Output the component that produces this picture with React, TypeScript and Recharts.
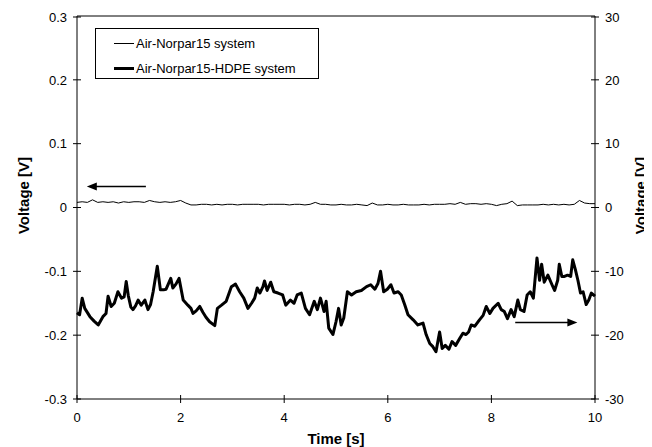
import { LineChart, Line, XAxis, YAxis, ReferenceLine } from 'recharts';

// Air-Norpar15 system, left axis [V], sampled every 0.1 s
const airStep = 0.1;
const airVoltage = [
  0.008, 0.009, 0.008, 0.012, 0.008, 0.009, 0.008, 0.009, 0.007, 0.009,
  0.008, 0.009, 0.009, 0.008, 0.011, 0.009, 0.008, 0.009, 0.008, 0.009,
  0.011, 0.007, 0.004, 0.004, 0.005, 0.005, 0.004, 0.005, 0.004, 0.005,
  0.005, 0.004, 0.005, 0.005, 0.005, 0.005, 0.004, 0.005, 0.005, 0.005,
  0.005, 0.004, 0.005, 0.005, 0.004, 0.005, 0.008, 0.005, 0.005, 0.004,
  0.004, 0.005, 0.004, 0.004, 0.005, 0.004, 0.003, 0.007, 0.004, 0.004,
  0.005, 0.004, 0.004, 0.005, 0.004, 0.004, 0.004, 0.005, 0.004, 0.005,
  0.005, 0.005, 0.006, 0.005, 0.008, 0.005, 0.006, 0.006, 0.005, 0.006,
  0.005, 0.003, 0.005, 0.006, 0.010, 0.003, 0.004, 0.004, 0.004, 0.004,
  0.005, 0.004, 0.005, 0.004, 0.005, 0.004, 0.005, 0.011, 0.007, 0.006,
  0.006,
];

// Air-Norpar15-HDPE system, right axis [V]
const hdpeTime = [
  0, 0.05, 0.1, 0.15, 0.25, 0.33, 0.41, 0.5, 0.56, 0.6, 0.66, 0.72, 0.79, 0.86, 0.91, 0.95, 0.99,
  1.04, 1.08, 1.13, 1.18, 1.24, 1.31, 1.37, 1.42, 1.47, 1.55, 1.61, 1.67, 1.72, 1.81, 1.85, 1.91, 1.97,
  2.05, 2.14, 2.2, 2.24, 2.3, 2.37, 2.43, 2.49, 2.56, 2.66, 2.71, 2.79, 2.88, 2.98,
  3.06, 3.14, 3.22, 3.3, 3.37, 3.43, 3.48, 3.53, 3.59, 3.62, 3.67, 3.74, 3.8, 3.88, 3.97,
  4.03, 4.12, 4.19, 4.25, 4.33, 4.41, 4.49, 4.58, 4.64, 4.7, 4.77, 4.81, 4.86, 4.94,
  5.0, 5.05, 5.1, 5.15, 5.22, 5.3, 5.39, 5.49, 5.59, 5.67, 5.75, 5.81, 5.86, 5.92, 5.99,
  6.06, 6.12, 6.2, 6.26, 6.33, 6.39, 6.49, 6.58, 6.68, 6.74, 6.81, 6.87, 6.93,
  7.0, 7.05, 7.11, 7.18, 7.24, 7.31, 7.39, 7.45, 7.51, 7.56, 7.61, 7.68, 7.77, 7.84, 7.9, 7.97,
  8.03, 8.13, 8.19, 8.25, 8.31, 8.38, 8.44, 8.51, 8.56, 8.63, 8.69, 8.75, 8.81, 8.88, 8.93, 8.97,
  9.02, 9.09, 9.17, 9.22, 9.28, 9.31, 9.36, 9.41, 9.47, 9.53, 9.57, 9.62, 9.67, 9.72, 9.77, 9.83,
  9.88, 9.93, 10,
];
const hdpeVoltage = [
  -16.5, -16.8, -14.2, -15.8, -17.1, -17.8, -18.4, -17.1, -16.6, -13.9, -15.5, -15.0, -13.2, -14.2, -14.0, -11.6, -13.8,
  -15.6, -16.0, -15.4, -14.5, -15.3, -14.5, -16.0, -15.2, -13.2, -9.2, -12.9, -12.9, -12.8, -11.1, -12.6, -12.0, -11.1,
  -14.5, -15.3, -15.8, -16.6, -16.2, -15.5, -16.4, -17.2, -17.9, -18.5, -15.8, -15.3, -14.7, -12.4,
  -12.0, -13.2, -14.2, -15.8, -15.0, -14.2, -12.6, -13.4, -12.4, -11.5, -13.0, -11.7, -13.2, -13.4, -13.7,
  -15.3, -14.5, -15.0, -13.7, -13.4, -15.8, -16.8, -14.7, -16.0, -14.2, -16.3, -14.7, -18.9, -19.9,
  -17.9, -15.8, -18.4, -17.3, -13.2, -13.7, -13.2, -13.0, -12.4, -12.1, -12.8, -11.9, -10.0, -13.2, -12.8,
  -12.1, -13.4, -13.2, -13.7, -15.3, -16.8, -17.6, -18.4, -18.1, -19.9, -21.3, -21.8, -22.6,
  -19.5, -22.1, -21.6, -22.2, -21.0, -21.6, -20.5, -19.7, -19.9, -19.5, -18.4, -18.6, -17.6, -16.9, -15.5, -16.6,
  -15.8, -15.0, -16.0, -16.3, -17.4, -16.0, -17.1, -14.5, -16.0, -16.3, -13.7, -13.2, -14.2, -7.9, -11.4, -8.9,
  -11.7, -10.6, -12.1, -13.0, -11.4, -8.9, -10.8, -10.8, -10.6, -10.8, -8.2, -9.7, -11.4, -13.4, -13.2, -15.2,
  -14.5, -13.4, -13.9,
];

const seriesNames = ['Air-Norpar15 system', 'Air-Norpar15-HDPE system'];
const xTicks = [0, 2, 4, 6, 8, 10];
const leftTicks = [-0.3, -0.2, -0.1, 0, 0.1, 0.2, 0.3];
const rightTicks = [-30, -20, -10, 0, 10, 20, 30];

// arrows pointing to the axis each curve belongs to
const leftArrow = [{ x: 0.19, y: 0.033 }, { x: 1.33, y: 0.033 }];
const rightArrow = [{ x: 9.66, y: -18 }, { x: 8.46, y: -18 }];

const airData = airVoltage.map((v, i) => ({ t: Math.round(i * airStep * 100) / 100, v }));
const hdpeData = hdpeTime.map((t, i) => ({ t, v: hdpeVoltage[i] }));

const FONT = 'Arial, "Liberation Sans", sans-serif';
const TICK = 4;
const MARGIN = 6;

const XTick = (props: any) => {
  const { x, y, payload } = props;
  const axisY = y - TICK - MARGIN;
  return (
    <g>
      <line x1={x} x2={x} y1={axisY - TICK} y2={axisY + TICK} stroke="#000" />
      <text x={x} y={axisY + 14} dy="0.71em" textAnchor="middle" fontSize={13} fontFamily={FONT} fill="#000">
        {payload.value}
      </text>
    </g>
  );
};

const LeftTick = (props: any) => {
  const { x, y, payload } = props;
  const axisX = x + TICK + MARGIN;
  return (
    <g>
      <line x1={axisX - TICK} x2={axisX + TICK} y1={y} y2={y} stroke="#000" />
      <text x={axisX - 10} y={y} dy="0.36em" textAnchor="end" fontSize={13} fontFamily={FONT} fill="#000">
        {payload.value}
      </text>
    </g>
  );
};

const RightTick = (props: any) => {
  const { x, y, payload } = props;
  const axisX = x - TICK - MARGIN;
  return (
    <g>
      <line x1={axisX - TICK} x2={axisX + TICK} y1={y} y2={y} stroke="#000" />
      <text x={axisX + 10} y={y} dy="0.36em" textAnchor="start" fontSize={13} fontFamily={FONT} fill="#000">
        {payload.value}
      </text>
    </g>
  );
};

// line from (x1,y1) = arrow head to (x2,y2) = tail
const ArrowShape = (props: any) => {
  const { x1, y1, x2, y2 } = props;
  const dir = x2 > x1 ? 1 : -1;
  return (
    <g>
      <line x1={x1 + dir * 6} y1={y1} x2={x2} y2={y2} stroke="#000" strokeWidth={1.5} />
      <polygon points={`${x1},${y1} ${x1 + dir * 10},${y1 - 4} ${x1 + dir * 10},${y1 + 4}`} fill="#000" />
    </g>
  );
};

const titleStyle = { fontSize: 15, fontWeight: 700, fontFamily: FONT, fill: '#000' };

export default function App() {
  return (
    <div style={{ position: 'relative', width: 644, height: 439 }}>
      <LineChart width={644} height={439} margin={{ top: 8, right: 0, bottom: 0, left: 0 }}>
        <XAxis
          dataKey="t"
          type="number"
          domain={[0, 10]}
          ticks={xTicks}
          height={48}
          tickSize={TICK}
          tickMargin={MARGIN}
          tickLine={false}
          tick={<XTick />}
          axisLine={{ stroke: '#000' }}
          label={{
            content: (p: any) => {
              const vb = p.viewBox;
              return (
                <text x={vb.x + vb.width / 2} y={vb.y + 39} textAnchor="middle" dominantBaseline="central" style={titleStyle}>
                  Time [s]
                </text>
              );
            },
          }}
        />
        <YAxis
          yAxisId="left"
          type="number"
          domain={[-0.3, 0.3]}
          ticks={leftTicks}
          width={69}
          tickSize={TICK}
          tickMargin={MARGIN}
          tickLine={false}
          tick={<LeftTick />}
          axisLine={{ stroke: '#000' }}
          label={{
            content: (p: any) => {
              const vb = p.viewBox;
              const cx = 15;
              const cy = vb.y + vb.height / 2 - 12;
              return (
                <text x={cx} y={cy} transform={`rotate(-90, ${cx}, ${cy})`} textAnchor="middle" dominantBaseline="central" style={titleStyle}>
                  Voltage [V]
                </text>
              );
            },
          }}
        />
        <YAxis
          yAxisId="right"
          orientation="right"
          type="number"
          domain={[-30, 30]}
          ticks={rightTicks}
          width={57}
          tickSize={TICK}
          tickMargin={MARGIN}
          tickLine={false}
          tick={<RightTick />}
          axisLine={{ stroke: '#000' }}
          label={{
            content: (p: any) => {
              const vb = p.viewBox;
              const cx = vb.x + 45;
              const cy = vb.y + vb.height / 2 - 12;
              return (
                <text x={cx} y={cy} transform={`rotate(-90, ${cx}, ${cy})`} textAnchor="middle" dominantBaseline="central" style={titleStyle}>
                  Voltage [V]
                </text>
              );
            },
          }}
        />
        <ReferenceLine yAxisId="left" y={0.3} stroke="#000" />
        <Line
          yAxisId="left"
          data={airData}
          dataKey="v"
          name={seriesNames[0]}
          type="linear"
          stroke="#000"
          strokeWidth={1}
          dot={false}
          isAnimationActive={false}
        />
        <Line
          yAxisId="right"
          data={hdpeData}
          dataKey="v"
          name={seriesNames[1]}
          type="linear"
          stroke="#000"
          strokeWidth={3}
          strokeLinejoin="round"
          dot={false}
          isAnimationActive={false}
        />
        <ReferenceLine yAxisId="left" segment={leftArrow} shape={<ArrowShape />} />
        <ReferenceLine yAxisId="right" segment={rightArrow} shape={<ArrowShape />} />
      </LineChart>
      <div
        style={{
          position: 'absolute',
          left: 87,
          top: 20,
          width: 222,
          height: 49,
          border: '1px solid #000',
          background: '#fff',
          fontFamily: FONT,
          fontSize: 13,
          color: '#000',
        }}
      >
        {seriesNames.map((name, i) => (
          <div key={name} style={{ position: 'absolute', left: 18, top: i === 0 ? 6 : 31, display: 'flex', alignItems: 'center', height: 16 }}>
            <div style={{ width: 20, height: 0, borderTop: `${i === 0 ? 1 : 3}px solid #000`, marginRight: 2 }} />
            <span style={{ whiteSpace: 'nowrap' }}>{name}</span>
          </div>
        ))}
      </div>
    </div>
  );
}
